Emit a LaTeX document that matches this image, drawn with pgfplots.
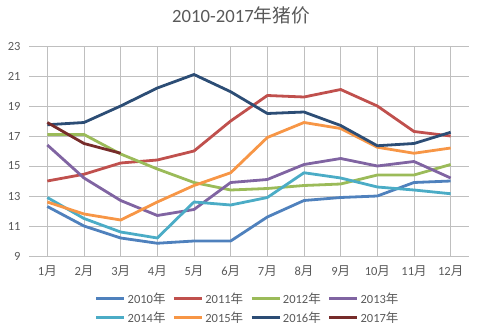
\documentclass[border=0pt]{standalone}
\usepackage{fontspec}
\setmainfont{Carlito}
\newfontfamily\cjk{Noto Sans CJK SC}
\usepackage{pgfplots}
\pgfplotsset{compat=1.18}
\definecolor{txt}{HTML}{595959}
\definecolor{grid}{HTML}{D9D9D9}
\definecolor{c10}{HTML}{4F81BD}
\definecolor{c11}{HTML}{C0504D}
\definecolor{c12}{HTML}{9BBB59}
\definecolor{c13}{HTML}{8064A2}
\definecolor{c14}{HTML}{4BACC6}
\definecolor{c15}{HTML}{F79646}
\definecolor{c16}{HTML}{2C4D75}
\definecolor{c17}{HTML}{772C2A}
\newcommand\yue{{\cjk 月}}
\newcommand\nian{{\cjk 年}}
\begin{document}
\begin{tikzpicture}
\useasboundingbox (-29bp,-79bp) rectangle (450bp,256bp);
\begin{axis}[
  scale only axis, width=440bp, height=210bp,
  at={(0,0)}, anchor=south west,
  xmin=0.5, xmax=12.5, ymin=9, ymax=23,
  xtick={1,...,12},
  xticklabels={{1\yue},{2\yue},{3\yue},{4\yue},{5\yue},{6\yue},{7\yue},{8\yue},{9\yue},{10\yue},{11\yue},{12\yue}},
  ytick={9,11,...,23},
  ymajorgrids, major grid style={grid, line width=0.75bp},
  axis line style={draw=none},
  major tick length=0pt,
  tick label style={font=\fontsize{12.5bp}{14bp}\selectfont, text=txt},
  /pgf/number format/assume math mode=true,
  yticklabel style={xshift=-5bp},
  xticklabel style={yshift=-6bp},
  clip=false,
  legend columns=4,
  legend style={draw=none, fill=none, at={(0.497,-0.248)}, anchor=center,
    font=\fontsize{12.5bp}{14bp}\selectfont, text=txt,
    /tikz/every even column/.append style={column sep=5bp},
    row sep=3bp, inner sep=0pt},
  legend image code/.code={\draw[#1, line width=2.8bp] (0bp,0bp) -- (28bp,0bp);},
  every axis plot/.append style={line width=2.8bp, line join=round, mark=none},
]
\addplot[c10] coordinates {(1,12.3)(2,11.0)(3,10.2)(4,9.85)(5,10.0)(6,10.0)(7,11.6)(8,12.7)(9,12.9)(10,13.0)(11,13.9)(12,14.0)};
\addlegendentry{2010\nian}
\addplot[c11] coordinates {(1,14.0)(2,14.45)(3,15.2)(4,15.4)(5,16.0)(6,18.0)(7,19.7)(8,19.6)(9,20.1)(10,19.0)(11,17.3)(12,17.0)};
\addlegendentry{2011\nian}
\addplot[c12] coordinates {(1,17.1)(2,17.1)(3,15.8)(4,14.8)(5,13.9)(6,13.4)(7,13.5)(8,13.7)(9,13.8)(10,14.4)(11,14.4)(12,15.1)};
\addlegendentry{2012\nian}
\addplot[c13] coordinates {(1,16.4)(2,14.2)(3,12.7)(4,11.7)(5,12.1)(6,13.9)(7,14.1)(8,15.1)(9,15.5)(10,15.0)(11,15.3)(12,14.2)};
\addlegendentry{2013\nian}
\addplot[c14] coordinates {(1,12.9)(2,11.5)(3,10.6)(4,10.2)(5,12.6)(6,12.4)(7,12.9)(8,14.55)(9,14.2)(10,13.6)(11,13.4)(12,13.15)};
\addlegendentry{2014\nian}
\addplot[c15] coordinates {(1,12.6)(2,11.8)(3,11.4)(4,12.6)(5,13.7)(6,14.55)(7,16.9)(8,17.9)(9,17.5)(10,16.25)(11,15.85)(12,16.2)};
\addlegendentry{2015\nian}
\addplot[c16] coordinates {(1,17.75)(2,17.9)(3,19.0)(4,20.2)(5,21.1)(6,19.95)(7,18.5)(8,18.6)(9,17.7)(10,16.35)(11,16.5)(12,17.25)};
\addlegendentry{2016\nian}
\addplot[c17] coordinates {(1,17.9)(2,16.5)(3,15.85)};
\addlegendentry{2017\nian}
\end{axis}
\node[text=txt, font=\fontsize{18.7bp}{22bp}\selectfont] at (212bp,241bp) {2010-2017{\cjk 年猪价}};
\end{tikzpicture}
\end{document}
